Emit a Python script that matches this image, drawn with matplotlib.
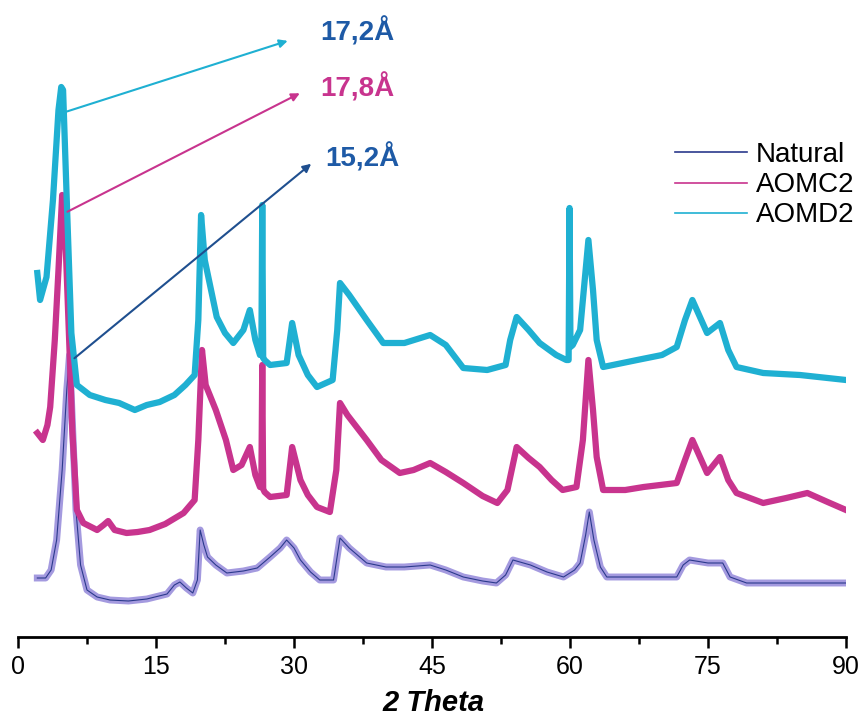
import matplotlib
matplotlib.use("Agg")
import matplotlib.pyplot as plt
from matplotlib.ticker import MultipleLocator

plt.rcParams['font.family'] = ['Liberation Sans', 'DejaVu Sans']

# 2-theta positions and displayed (offset) intensities
natural_x = [2.1, 3.0, 3.6, 4.2, 4.8, 5.3, 5.6, 5.9, 6.3, 6.8, 7.5, 8.6, 10, 12, 14, 16.2, 17.0, 17.6,
             18.3, 19.0, 19.5, 19.8, 20.2, 20.6, 21.5, 22.7, 24.5, 26.0, 27.4, 28.5, 29.2, 30.0, 30.7,
             31.8, 32.8, 34.3, 35.0, 36.0, 37.9, 40, 42, 44.8, 46.5, 48.4, 50.5, 52.0, 53.0, 53.8,
             55.7, 57.5, 59.3, 60.5, 61.1, 61.7, 62.1, 62.6, 63.3, 64.0, 68, 71.6, 72.3, 73.0, 75.0,
             76.6, 77.4, 79.2, 84, 90]
natural_y = [59, 59, 67, 97, 167, 247, 282, 217, 127, 72, 47, 40, 37, 36, 38, 43, 52, 55,
             49, 44, 57, 107, 92, 80, 72, 64, 66, 69, 80, 89, 97, 89, 77,
             65, 57, 57, 99, 89, 74, 70, 70, 72, 67, 60, 56, 54, 62, 77,
             72, 65, 60, 67, 74, 102, 125, 97, 70, 60, 60, 60, 72, 77, 74,
             74, 60, 54, 54, 54]

aomc2_x = [2.1, 2.7, 3.2, 3.5, 4.0, 4.4, 4.8, 5.2, 5.6, 5.9, 6.4, 7.1, 8.6, 9.3, 9.8, 10.5, 11.8, 13,
           14.3, 16, 18.0, 19.2, 19.6, 20.0, 20.4, 21.5, 22.6, 23.4, 24.3, 25.2, 25.8, 26.3, 26.45,
           26.55, 26.65, 26.8, 27.4, 29.2, 29.8, 30.7, 31.5, 32.5, 33.9, 34.6, 35.0, 35.8, 37.9,
           39.5, 41.5, 43, 44.8, 46.5, 48.4, 50.5, 52.1, 53.2, 54.2, 55.5, 56.7, 58.0, 59.2, 60.7,
           61.4, 62.0, 62.5, 62.9, 63.6, 66, 68, 71.6, 72.5, 73.3, 74.9, 76.3, 77.2, 78.1, 81,
           83.5, 85.8, 88, 90]
aomc2_y = [204, 197, 212, 230, 297, 367, 442, 387, 287, 207, 127, 114, 107, 112, 116, 107, 104, 105,
           107, 113, 124, 137, 197, 287, 252, 227, 197, 167, 172, 190, 162, 150, 150,
           272, 148, 145, 140, 142, 190, 157, 142, 130, 125, 167, 234, 222, 197,
           177, 164, 167, 174, 165, 154, 141, 134, 147, 190, 179, 170, 157, 147, 150,
           197, 277, 227, 180, 147, 147, 150, 154, 177, 197, 164, 180, 157, 144, 134,
           139, 144, 135, 127]

aomd2_x = [2.1, 2.4, 3.1, 3.8, 4.4, 4.7, 4.9, 5.3, 5.8, 6.4, 7.8, 9.5, 11, 12.7, 14, 15.4, 17, 18.2,
           19.2, 19.6, 19.9, 20.3, 21.6, 22.5, 23.4, 24.5, 25.2, 25.8, 26.3, 26.45, 26.55, 26.65,
           26.8, 27.4, 29.2, 29.8, 30.5, 31.5, 32.5, 34.2, 34.7, 35.0, 36.0, 37.9, 39.7, 42, 44.8,
           46.5, 48.4, 51, 53.0, 53.5, 54.2, 55.5, 56.7, 58.5, 59.6, 59.85, 59.95, 60.05, 60.3,
           61.1, 61.6, 62.0, 62.5, 62.9, 63.6, 67.3, 70, 71.6, 72.5, 73.3, 74.9, 76.3, 77.2, 78.1,
           81, 85, 90]
aomd2_y = [364, 337, 360, 437, 527, 550, 547, 437, 304, 252, 242, 237, 234, 227, 232, 235, 242, 252,
           262, 317, 422, 377, 320, 304, 294, 307, 327, 297, 282, 282, 432, 279,
           277, 272, 274, 314, 282, 262, 250, 257, 307, 354, 342, 317, 294, 294, 302,
           292, 269, 267, 272, 297, 320, 307, 294, 282, 277, 277, 429, 290, 292,
           307, 357, 397, 347, 297, 270, 277, 282, 290, 317, 337, 304, 314, 287, 270,
           264, 262, 257]

fig = plt.figure(figsize=(8.63, 7.2), dpi=100)
ax = fig.add_axes([18 / 863, 1 - 637 / 720, 828 / 863, 637 / 720])

ax.plot(natural_x, natural_y, color='#9a8fdc', lw=5, alpha=0.9, solid_joinstyle='round')
ax.plot(natural_x, natural_y, color='#2b3a8c', lw=0.8)
ax.plot(aomc2_x, aomc2_y, color='#c8348e', lw=4.5, solid_joinstyle='round')
ax.plot(aomd2_x, aomd2_y, color='#1fb0d2', lw=4.5, solid_joinstyle='round')

# legend proxies
ax.plot([], [], color='#2b3a8c', lw=1.2, label='Natural')
ax.plot([], [], color='#c8348e', lw=1.2, label='AOMC2')
ax.plot([], [], color='#1fb0d2', lw=1.2, label='AOMD2')
handles, labels = ax.get_legend_handles_labels()
ax.legend(handles, labels, loc='upper left', bbox_to_anchor=(664 / 863, 1 - 131 / 720),
          bbox_transform=fig.transFigure, frameon=False, fontsize=20, handlelength=2.6,
          handletextpad=0.3, labelspacing=0.15, borderaxespad=0)

# d-spacing arrows
arrow_kw = dict(arrowstyle='-|>', lw=1.5, mutation_scale=12)
ax.annotate('', xy=(29.6, 597), xytext=(4.8, 524),
            arrowprops=dict(color='#1fb0d2', **arrow_kw))
ax.annotate('', xy=(30.9, 545), xytext=(5.1, 424),
            arrowprops=dict(color='#c8348e', **arrow_kw))
ax.annotate('', xy=(32.1, 475), xytext=(5.9, 277),
            arrowprops=dict(color='#1f4f8f', **arrow_kw))
ax.text(32.8, 605, '17,2Å', color='#1e5aa6', fontsize=20, fontweight='bold', va='center')
ax.text(32.8, 549, '17,8Å', color='#c8348e', fontsize=20, fontweight='bold', va='center')
ax.text(33.4, 479, '15,2Å', color='#1e5aa6', fontsize=20, fontweight='bold', va='center')

ax.set_xlim(0, 90)
ax.set_ylim(0, 637)
ax.xaxis.set_major_locator(MultipleLocator(15))
ax.xaxis.set_minor_locator(MultipleLocator(7.5))
ax.tick_params(axis='x', which='major', direction='out', length=8, width=1.8, labelsize=18, pad=5)
ax.tick_params(axis='x', which='minor', direction='out', length=5, width=1.8)
ax.set_yticks([])
for side in ['left', 'right', 'top']:
    ax.spines[side].set_visible(False)
ax.spines['bottom'].set_linewidth(2)

fig.text(434 / 863, 1 - 703 / 720, '2 Theta', ha='center', va='center', fontsize=21,
         fontweight='bold', fontstyle='italic')

plt.savefig('out.png', dpi=100)
